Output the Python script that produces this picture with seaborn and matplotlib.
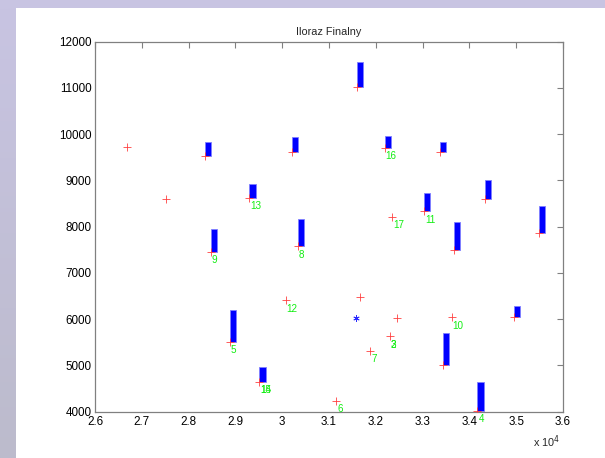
import numpy as np
import pandas as pd
import matplotlib
matplotlib.use("Agg")
import matplotlib.pyplot as plt
import seaborn as sns
from matplotlib.colors import LinearSegmentedColormap

# ---- data ----
pt_x = [26680, 27510, 28350, 29300, 28470, 28885, 29510, 30075, 30210, 30340,
        31600, 31155, 31655, 31885, 32300, 32445, 32190, 32345, 33030, 33365,
        33665, 33620, 33435, 34170, 34325, 34945, 35480]
pt_y = [9720, 8590, 9530, 8620, 7450, 5510, 4650, 6410, 9610, 7575,
        11030, 4240, 6475, 5320, 5630, 6025, 9710, 8215, 8335, 9615,
        7495, 6040, 5005, 4015, 8600, 6055, 7855]

bar_x = [28350, 29300, 28470, 28885, 29510, 30210, 30340, 31600, 32190, 33030,
         33365, 33665, 33435, 34170, 34325, 34945, 35480]
bar_lo = [9530, 8620, 7450, 5510, 4650, 9610, 7575, 11030, 9710, 8335,
          9615, 7495, 5005, 4015, 8600, 6055, 7855]
bar_hi = [9825, 8920, 7960, 6200, 4960, 9930, 8165, 11560, 9960, 8730,
          9830, 8095, 5700, 4640, 9010, 6285, 8450]

star_x = [31570]
star_y = [6020]

lab_text = ["13", "9", "5", "14", "15", "12", "8", "6", "7", "2", "3",
            "16", "17", "11", "10", "4"]
lab_x = [29300, 28470, 28885, 29510, 29510, 30075, 30340, 31155, 31885, 32300, 32300,
         32190, 32345, 33030, 33620, 34170]
lab_y = [8620, 7450, 5510, 4650, 4650, 6410, 7575, 4240, 5320, 5630, 5630,
         9710, 8215, 8335, 6040, 4015]

xticks = [26000, 27000, 28000, 29000, 30000, 31000, 32000, 33000, 34000, 35000, 36000]
xtick_labels = ["2.6", "2.7", "2.8", "2.9", "3", "3.1", "3.2", "3.3", "3.4", "3.5", "3.6"]
yticks = [4000, 5000, 6000, 7000, 8000, 9000, 10000, 11000, 12000]

sns.set_style("white")
plt.rcParams['font.family'] = ['Liberation Sans', 'DejaVu Sans']

W, H = 605, 458
fig = plt.figure(figsize=(W / 100, H / 100), dpi=100)
fig.patch.set_facecolor("white")

# lavender top strip
tax = fig.add_axes([0, 1 - 8 / H, 1, 8 / H])
tax.set_facecolor("#c8c4e2")
tax.set_xticks([]); tax.set_yticks([])
for s in tax.spines.values():
    s.set_visible(False)
# left gradient strip
gax = fig.add_axes([0, 0, 16 / W, 1 - 8 / H])
grad = np.linspace(0, 1, 256).reshape(-1, 1)
cmap = LinearSegmentedColormap.from_list("g", ["#c8c4e2", "#bcbbcc"])
gax.imshow(grad, aspect="auto", cmap=cmap, extent=[0, 1, 1, 0])
gax.axis("off")

ax = fig.add_axes([95 / W, 1 - 411.7 / H, (563 - 95) / W, (411.7 - 41.7) / H])
ax.set_facecolor("white")

heights = [h - l for h, l in zip(bar_hi, bar_lo)]
ax.bar(bar_x, heights, bottom=bar_lo, width=135, align="edge",
       color="#0000ff", edgecolor="#8080ff", linewidth=0.6, zorder=2)

df = pd.DataFrame({"x": pt_x, "y": pt_y})
sns.scatterplot(data=df, x="x", y="y", marker="+", color="#ff4040", s=30,
                linewidth=0.6, ax=ax, zorder=3, legend=False)

ax.plot(star_x, star_y, linestyle="none", marker=(6, 2, 0), color="#2a2aff",
        markersize=4.5, markeredgewidth=0.6, zorder=3)

for t, x, y in zip(lab_text, lab_x, lab_y):
    ax.annotate(t, (x, y), xytext=(0.7, -6.0), textcoords="offset points",
                ha="left", va="center", color="#11ee11", fontsize=7.1,
                annotation_clip=False, zorder=4)

ax.set_xlim(26000, 36000)
ax.set_ylim(4000, 12000)
ax.set_xticks(xticks)
ax.set_xticklabels(xtick_labels)
ax.set_yticks(yticks)
ax.set_yticklabels([str(v) for v in yticks])
ax.set_xlabel("")
ax.set_ylabel("")

for s in ax.spines.values():
    s.set_visible(True)
    s.set_color("#808080")
    s.set_linewidth(0.9)
ax.tick_params(direction="in", length=4, width=0.8, color="#808080",
               top=True, right=True, labelsize=8.4, labelcolor="black")
ax.tick_params(axis="x", pad=3)
ax.tick_params(axis="y", pad=2.5)

ax.set_title("Iloraz Finalny", fontsize=7.8, pad=5)
ax.text(0.994, -0.058, r"x 10$^{4}$", transform=ax.transAxes, ha="right", va="top",
        fontsize=7.8)

fig.savefig("out.png", dpi=100, facecolor=fig.get_facecolor())
